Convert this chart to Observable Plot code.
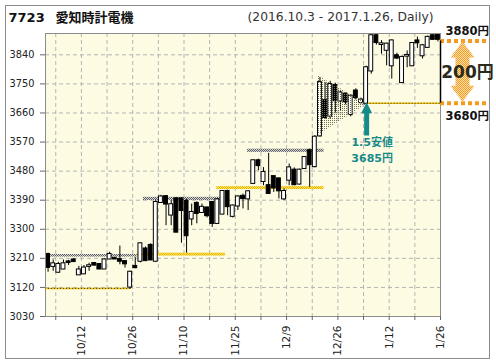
<!DOCTYPE html>
<html><head><meta charset="utf-8">
<script src="https://cdn.jsdelivr.net/npm/d3@7"></script>
<script src="https://cdn.jsdelivr.net/npm/@observablehq/plot@0.6"></script>
<style>html,body{margin:0;padding:0;background:#fff;overflow:hidden} svg{display:block}</style>
</head><body><div id="chart"></div>
<script>
// trading days 2016.10.3 - 2017.1.26
const dates = ["10/3","10/4","10/5","10/6","10/7","10/11","10/12","10/13","10/14","10/17","10/18","10/19","10/20","10/21","10/24","10/25","10/26","10/27","10/28","10/31",
"11/1","11/2","11/4","11/7","11/8","11/9","11/10","11/11","11/14","11/15","11/16","11/17","11/18","11/21","11/22","11/24","11/25","11/28","11/29","11/30",
"12/1","12/2","12/5","12/6","12/7","12/8","12/9","12/12","12/13","12/14","12/15","12/16","12/19","12/20","12/21","12/22","12/26","12/27","12/28","12/29","12/30",
"1/4","1/5","1/6","1/10","1/11","1/12","1/13","1/16","1/17","1/18","1/19","1/20","1/23","1/24","1/25","1/26"];
const open  = [3222,3185,3167,3177,3199,3205,3159,3162,3185,3194,3191,3177,3208,3210,3206,3200,3121,3185,3201,3239,3250,3201,3383,3401,3344,3394,3394,3386,3332,3380,3352,3366,3383,3318,3347,3417,3340,3372,3402,3394,3442,3512,3448,3435,3463,3456,3394,3452,3483,3440,3488,3543,3494,3589,3698,3650,3745,3697,3718,3655,3728,3692,3690,3790,3899,3872,3854,3806,3837,3754,3836,3806,3883,3837,3863,3899,3900];
const high  = [3226,3205,3198,3205,3204,3209,3185,3188,3195,3196,3192,3208,3229,3212,3248,3201,3170,3213,3258,3245,3255,3390,3405,3403,3389,3398,3397,3392,3378,3385,3378,3368,3386,3395,3420,3421,3375,3404,3409,3419,3515,3517,3491,3535,3466,3458,3425,3502,3490,3486,3525,3548,3590,3770,3754,3758,3752,3730,3722,3716,3735,3706,3805,3904,3902,3884,3876,3886,3845,3836,3852,3878,3895,3872,3898,3902,3903];
const low   = [3167,3170,3165,3175,3188,3198,3158,3161,3170,3187,3176,3176,3206,3207,3190,3180,3114,3178,3196,3200,3203,3198,3380,3311,3311,3290,3257,3226,3311,3317,3350,3335,3306,3316,3345,3342,3335,3358,3363,3358,3440,3481,3435,3408,3414,3394,3389,3435,3435,3437,3485,3430,3490,3585,3640,3640,3660,3665,3685,3648,3700,3688,3685,3780,3870,3842,3806,3765,3825,3752,3800,3804,3860,3827,3860,3885,3880];
const close = [3182,3193,3191,3193,3197,3200,3174,3180,3187,3189,3177,3205,3222,3208,3201,3193,3167,3181,3255,3203,3205,3383,3400,3378,3376,3291,3358,3280,3352,3349,3368,3342,3318,3391,3417,3370,3372,3400,3395,3416,3512,3497,3476,3411,3428,3419,3417,3490,3438,3483,3522,3500,3585,3754,3646,3748,3698,3722,3695,3712,3708,3700,3800,3899,3878,3874,3873,3883,3830,3832,3838,3875,3877,3868,3894,3888,3888];

const yTicks = [3030,3120,3210,3300,3390,3480,3570,3660,3750,3840];
const tickDays = [1,6,11,16,21,26,31,36,41,46,51,56,61,66,71,76];
const labelDays = [6,16,26,36,46,56,66,76];

// support / resistance annotations (index units, price units)
const grayBands   = [{x1:-0.5,x2:17.4,y1:3214,y2:3222},{x1:18.6,x2:33.6,y1:3389,y2:3399},{x1:38.9,x2:53.8,y1:3538,y2:3548}];
const yellowBands = [{x1:17.4,x2:34.6,y1:3217,y2:3226},{x1:32.9,x2:53.8,y1:3423,y2:3432}];
const dottedLevels = [{x1:-0.5,x2:16,y:3117},{x1:62.2,x2:76.5,y:3690}];
const funnel = [{i:52.6,lo:3590,hi:3775},{i:62.2,lo:3688,hi:3688}];
const rangeLevels = [3883, 3690];       // drawn range 3880円 / 3680円
const rangeExtent = {from:76.5, to:86.2};
const lowMark = {i:62.2, top:3692, bottom:3589};
const lowLabels = ["1.5安値", "3685円"];

const candles = dates.map((d,i)=>({i, d, o:open[i], h:high[i], l:low[i], c:close[i]}));
const up = candles.filter(d=>d.c>=d.o), down = candles.filter(d=>d.c<d.o);

const FONT = "'DejaVu Sans','Noto Sans CJK JP',sans-serif";

function decorations(index, scales, values, dim) {
  const {x, y} = scales;
  const g = d3.create("svg:g");
  const defs = g.append("defs");
  function checker(id, bg, fg) {
    const p = defs.append("pattern").attr("id", id).attr("patternUnits","userSpaceOnUse").attr("width",2).attr("height",2);
    if (bg) p.append("rect").attr("width",2).attr("height",2).attr("fill",bg);
    p.append("rect").attr("width",1).attr("height",1).attr("fill",fg);
    p.append("rect").attr("x",1).attr("y",1).attr("width",1).attr("height",1).attr("fill",fg);
  }
  checker("hatchGray", "#d8d8d8", "#5e5e5e");
  checker("hatchYellow", "#ffe45c", "#e8b400");
  checker("hatchOrange", "#fde1b0", "#f49a1e");
  const pd = defs.append("pattern").attr("id","dots").attr("patternUnits","userSpaceOnUse").attr("width",2).attr("height",2);
  pd.append("rect").attr("width",1).attr("height",1).attr("fill","#6f6f55");
  // outer border
  g.append("rect").attr("x",5.5).attr("y",5.5).attr("width",dim.width-12).attr("height",dim.height-11)
    .attr("fill","none").attr("stroke","#8c8c8c");
  // orange double arrow
  const cx = x(rangeExtent.from) + 22.5, t = y(rangeLevels[0]) + 1, b = y(rangeLevels[1]) - 1;
  const hw = 12, sw = 7, hl = 16;
  g.append("path").attr("d",
    `M${cx},${t}L${cx+hw},${t+hl}L${cx+sw},${t+hl}L${cx+sw},${b-hl}L${cx+hw},${b-hl}L${cx},${b}L${cx-hw},${b-hl}L${cx-sw},${b-hl}L${cx-sw},${t+hl}L${cx-hw},${t+hl}Z`)
    .attr("fill","url(#hatchOrange)");
  // teal arrow pointing at the low
  const ax = x(lowMark.i), at = y(lowMark.top), ab = y(lowMark.bottom);
  g.append("path").attr("d",
    `M${ax},${at}L${ax+5.5},${at+11}L${ax+2.5},${at+11}L${ax+2.5},${ab}L${ax-2.5},${ab}L${ax-2.5},${at+11}L${ax-5.5},${at+11}Z`)
    .attr("fill","#178a8a");
  return g.node();
}

const chart = Plot.plot({
  width: 496, height: 364,
  marginLeft: 45, marginRight: 56, marginTop: 33, marginBottom: 48,
  x: {domain: [-0.5, 76.5], axis: null},
  y: {domain: [3030, 3906], axis: null},
  style: {background: "#fff", fontFamily: FONT, fontSize: "9.5px", color: "#222", overflow: "visible"},
  marks: [
    Plot.frame({fill: "#fdfce3"}),
    Plot.gridX(tickDays.map(d=>d+0.5), {stroke: "#b4b4b4", strokeOpacity: 1, strokeDasharray: "4,3"}),
    Plot.gridY(yTicks.slice(1), {stroke: "#b4b4b4", strokeOpacity: 1, strokeDasharray: "4,3"}),
    Plot.rect(grayBands, {x1:"x1", x2:"x2", y1:"y1", y2:"y2", fill: "url(#hatchGray)"}),
    Plot.rect(yellowBands, {x1:"x1", x2:"x2", y1:"y1", y2:"y2", fill: "url(#hatchYellow)"}),
    Plot.ruleY(dottedLevels, {x1:"x1", x2:"x2", y:"y", stroke:"#f0c000", strokeWidth: 1.5}),
    Plot.ruleY(dottedLevels, {x1:"x1", x2:"x2", y:"y", stroke:"#333", strokeDasharray:"1,2"}),
    Plot.ruleX(candles, {x:"i", y1:"l", y2:"h", stroke:"#000"}),
    Plot.rect(up, {x1: d=>d.i-0.38, x2: d=>d.i+0.38, y1:"o", y2:"c", fill:"#fff", stroke:"#000", insetTop:-0.5, insetBottom:-0.5}),
    Plot.rect(down, {x1: d=>d.i-0.38, x2: d=>d.i+0.38, y1:"o", y2:"c", fill:"#000", stroke:"#000", insetTop:-0.5, insetBottom:-0.5}),
    Plot.areaY(funnel, {x:"i", y1:"lo", y2:"hi", fill:"url(#dots)"}),
    Plot.frame({stroke: "#8c8c8c"}),
    Plot.ruleY(rangeLevels, {x1: rangeExtent.from, x2: rangeExtent.to, stroke:"#f49a1e", strokeWidth: 4, strokeDasharray: "4,3"}),
    Plot.ruleX([rangeExtent.from], {y1: rangeLevels[1], y2: rangeLevels[0], stroke:"#000", strokeWidth: 1.5}),
    decorations,
    Plot.axisY(yTicks, {tickSize: 5, tickPadding: 6, tickFormat: d=>String(d), label: null, stroke:"#666", fill:"#222", fontSize: 9.8}),
    Plot.axisX(tickDays.map(d=>d+0.5), {tickSize: 4, tickPadding: 5, tickRotate: -90, label: null, stroke:"#666", fill:"#222", fontSize: 10.5,
      tickFormat: d => labelDays.includes(d-0.5) ? dates[d-0.5] : ""}),
    // titles
    Plot.text(["7723"], {frameAnchor:"top-left", dx:-37, dy:-16, textAnchor:"start", lineAnchor:"middle", fontWeight:"bold", fontSize:13, fill:"#111"}),
    Plot.text(["愛知時計電機"], {frameAnchor:"top-left", dx:10, dy:-16, textAnchor:"start", lineAnchor:"middle", fontWeight:"bold", fontSize:13, fill:"#111"}),
    Plot.text(["(2016.10.3 - 2017.1.26, Daily)"], {frameAnchor:"top-right", dx:-7, dy:-16, textAnchor:"end", lineAnchor:"middle", fontSize:12.3, fill:"#333"}),
    // range annotation
    Plot.text(["3880円"], {y: [rangeLevels[0]], frameAnchor:"right", dx:5, dy:-10, textAnchor:"start", lineAnchor:"middle", fontWeight:"bold", fontSize:11.5, fill:"#111"}),
    Plot.text(["3680円"], {y: [rangeLevels[1]], frameAnchor:"right", dx:5, dy:13, textAnchor:"start", lineAnchor:"middle", fontWeight:"bold", fontSize:11.5, fill:"#111"}),
    Plot.text(["200円"], {y: [(rangeLevels[0]+rangeLevels[1])/2], frameAnchor:"right", dx:27, textAnchor:"middle", lineAnchor:"middle", fontWeight:"bold", fontSize:17, fill:"#2a2a1a"}),
    // low annotation
    Plot.text([lowLabels[0]], {x: [lowMark.i], y: [lowMark.bottom], dx: 5, dy: 7, textAnchor:"middle", lineAnchor:"middle", fontWeight:"bold", fontSize:11, fill:"#178a8a"}),
    Plot.text([lowLabels[1]], {x: [lowMark.i], y: [lowMark.bottom], dx: 5, dy: 23, textAnchor:"middle", lineAnchor:"middle", fontWeight:"bold", fontSize:11, fill:"#178a8a"})
  ]
});
document.getElementById("chart").append(chart);
</script>
</body></html>
